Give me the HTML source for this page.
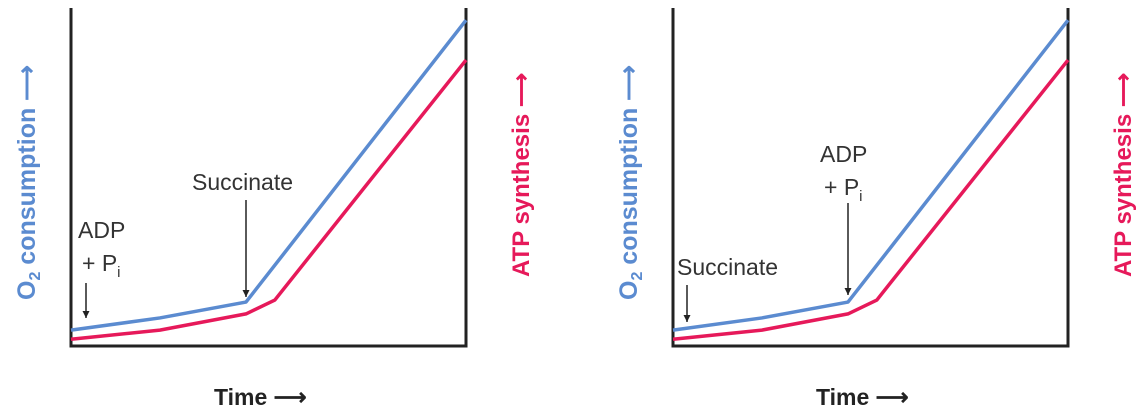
<!DOCTYPE html>
<html><head><meta charset="utf-8"><style>
body{margin:0;background:#fff;width:1143px;height:413px;overflow:hidden}
svg{font-family:"Liberation Sans",sans-serif}
</style></head><body>
<svg id="chart" width="1143" height="413">
<defs>
<marker id="ah" viewBox="0 0 10 10" refX="10" refY="5" markerWidth="7" markerHeight="7" markerUnits="userSpaceOnUse" orient="auto"><path d="M0,0 L10,5 L0,10z" fill="#222"/></marker>
</defs>
</svg>
<script>
const times=[0,22.5,44.3,51.6,100];
const o2Values=[4.7,8.3,13,23.9,96.4];
const atpValues=[2,4.7,9.5,13.6,84.6];
const panels=[
 {x0:71,ox:0,o2x:26,atpx:520,ann:[
  {lines:["ADP","+ P"],sub:"i",tx:78,ty:238,ax:86,ay1:283,ay2:318},
  {lines:["Succinate"],tx:192,ty:190,ax:246,ay1:200,ay2:297}]},
 {x0:673,ox:602,o2x:628,atpx:1122,ann:[
  {lines:["Succinate"],tx:677,ty:275,ax:687,ay1:285,ay2:322},
  {lines:["ADP","+ P"],sub:"i",tx:820,ty:162,ax:848,ay1:203,ay2:295}]}
];
const svg=document.getElementById('chart');
const NS='http://www.w3.org/2000/svg';
function mk(t,a){const e=document.createElementNS(NS,t);for(const k in a)e.setAttribute(k,a[k]);svg.appendChild(e);return e;}
const W=395,yB=346,H=338;
panels.forEach((p,i)=>{
 const xs=t=>p.x0+t/100*W, ys=v=>yB-v/100*H;
 const ax=mk('path',{d:`M${p.x0},8 V${yB} H${p.x0+W} V8`,fill:'none',stroke:'#222','stroke-width':3});
 
 
 [[o2Values,'#5b8bd0','o2-line'],[atpValues,'#e6195a','atp-line']].forEach(([vals,c,n])=>{
  const l=mk('polyline',{points:times.map((t,j)=>xs(t)+','+ys(vals[j])).join(' '),fill:'none',stroke:c,'stroke-width':3.5,'stroke-linejoin':'round'});
  
  
 });
 p.ann.forEach((a,k)=>{
  const t=mk('text',{x:a.tx,y:a.ty,'font-size':23,fill:'#333'});
  
  
  a.lines.forEach((s,m)=>{const ts=document.createElementNS(NS,'tspan');ts.setAttribute('x',m?a.tx+4:a.tx);ts.setAttribute('dy',m?33:0);ts.textContent=s;t.appendChild(ts);});
  if(a.sub){const ts=document.createElementNS(NS,'tspan');ts.setAttribute('font-size',15);ts.setAttribute('dy',6);ts.textContent=a.sub;t.appendChild(ts);}
  const ar=mk('line',{x1:a.ax,y1:a.ay1,x2:a.ax,y2:a.ay2,stroke:'#222','stroke-width':1.5,'marker-end':'url(#ah)'});
  
  
 });
 const tl=mk('text',{x:214+p.ox,y:405,'font-size':23,'font-weight':'bold',fill:'#222'});
 tl.textContent='Time ⟶';
 
 
 const o=mk('text',{x:0,y:0,'font-size':25,'font-weight':'bold',fill:'#5b8bd0',transform:`translate(${p.o2x+9},300) rotate(-90)`,'text-anchor':'start'});
 o.innerHTML='O<tspan font-size="16" dy="5">2</tspan><tspan dy="-5"> consumption ⟶</tspan>';
 
 
 const a2=mk('text',{x:0,y:0,'font-size':24,'font-weight':'bold',fill:'#e6195a',transform:`translate(${p.atpx+9},277) rotate(-90)`});
 a2.textContent='ATP synthesis ⟶';
 
 
});
</script>
</body></html>
